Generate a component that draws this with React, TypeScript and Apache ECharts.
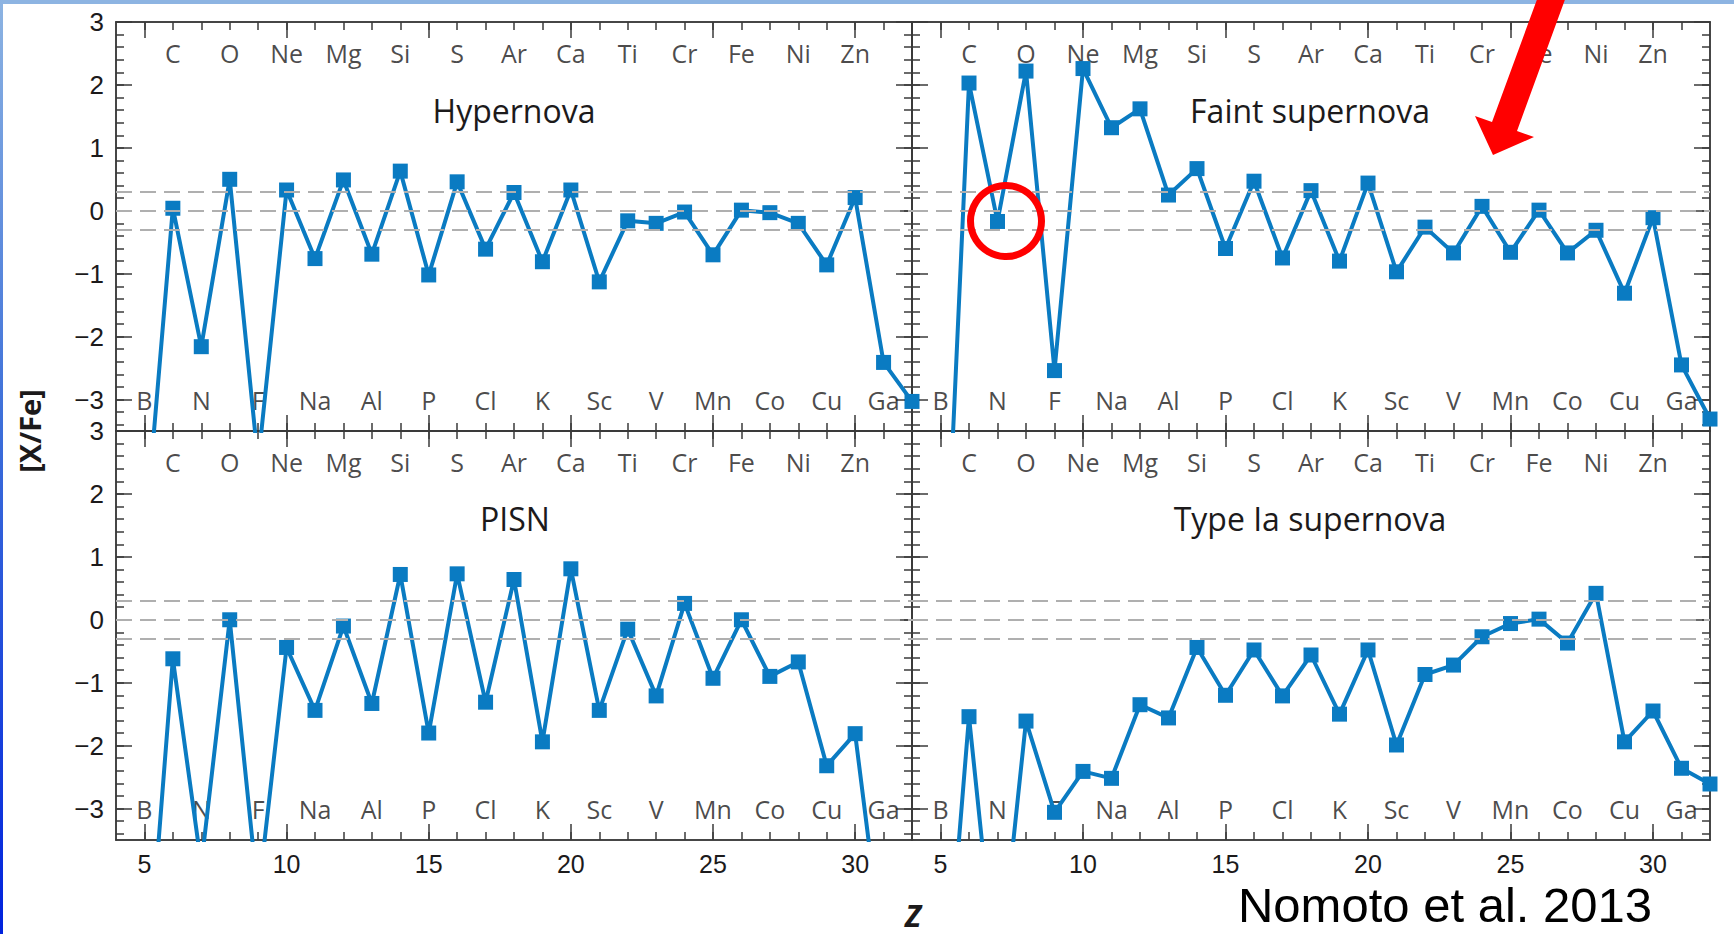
import React, { useEffect, useRef } from "react";
import * as echarts from "echarts";

// ---------- data ----------
const atomicNumbers = [5, 6, 7, 8, 9, 10, 11, 12, 13, 14, 15, 16, 17, 18, 19, 20, 21, 22, 23, 24, 25, 26, 27, 28, 29, 30, 31, 32];
const elementSymbols = ["B", "C", "N", "O", "F", "Ne", "Na", "Mg", "Al", "Si", "P", "S", "Cl", "Ar", "K", "Ca", "Sc", "Ti", "V", "Cr", "Mn", "Fe", "Co", "Ni", "Cu", "Zn", "Ga"];

const hypernova = [-5.3, 0.04, -2.16, 0.5, -4.0, 0.33, -0.76, 0.49, -0.69, 0.63, -1.02, 0.46, -0.61, 0.29, -0.81, 0.33, -1.13, -0.16, -0.2, -0.02, -0.7, 0.01, -0.03, -0.2, -0.86, 0.21, -2.41, -3.03];
const faintSupernova = [-7.9, 2.03, -0.17, 2.22, -2.54, 2.26, 1.32, 1.62, 0.25, 0.67, -0.6, 0.47, -0.75, 0.32, -0.8, 0.44, -0.97, -0.26, -0.67, 0.07, -0.66, 0.01, -0.67, -0.31, -1.31, -0.11, -2.45, -3.31];
const pisn = [-6.4, -0.62, -3.9, 0.0, -4.4, -0.44, -1.44, -0.1, -1.33, 0.72, -1.8, 0.73, -1.31, 0.64, -1.94, 0.81, -1.44, -0.15, -1.21, 0.26, -0.93, 0.0, -0.9, -0.67, -2.32, -1.81, -5.4];
const typeIaSupernova = [-7.1, -1.54, -5.9, -1.61, -3.06, -2.41, -2.52, -1.35, -1.56, -0.44, -1.2, -0.48, -1.21, -0.56, -1.5, -0.48, -1.99, -0.87, -0.72, -0.27, -0.06, 0.01, -0.37, 0.42, -1.94, -1.45, -2.36, -2.61];

const panelTitles = ["Hypernova", "Faint supernova", "PISN", "Type Ia supernova"];
const xMajorTicks = [5, 10, 15, 20, 25, 30];
const xMinorTicks = [5, 6, 7, 8, 9, 10, 11, 12, 13, 14, 15, 16, 17, 18, 19, 20, 21, 22, 23, 24, 25, 26, 27, 28, 29, 30, 31];
const yMajorTicks = [-3, -2, -1, 0, 1, 2, 3];
const yMinorTicks = [-3.4, -3.2, -3, -2.8, -2.6, -2.4, -2.2, -2, -1.8, -1.6, -1.4, -1.2, -1, -0.8, -0.6, -0.4, -0.2, 0, 0.2, 0.4, 0.6, 0.8, 1, 1.2, 1.4, 1.6, 1.8, 2, 2.2, 2.4, 2.6, 2.8];
const referenceLevels = [0.3, 0, -0.3];

// ---------- style / layout ----------
const FONT = "'Open Sans', 'DejaVu Sans', sans-serif";
const NUM_FONT = "'Liberation Sans', 'DejaVu Sans', sans-serif";
const INK = "#1c1a1b";
const AXIS = "#3a3a3a";
const BLUE = "#0A7BC2";
const LABEL_TOP_Y = 2.5;
const LABEL_BOTTOM_Y = -3.0;

const GRIDS = [
  { left: 116, top: 22, width: 796, height: 409 },
  { left: 912, top: 22, width: 798, height: 409 },
  { left: 116, top: 431, width: 796, height: 409 },
  { left: 912, top: 431, width: 798, height: 409 },
];
const PANELS = [
  { values: hypernova, yLabels: true, xLabels: false, tx: 514, ty: 110 },
  { values: faintSupernova, yLabels: false, xLabels: false, tx: 1310, ty: 110 },
  { values: pisn, yLabels: true, xLabels: true, tx: 515, ty: 518 },
  { values: typeIaSupernova, yLabels: false, xLabels: true, tx: 1310, ty: 518 },
];

const minus = (v: number) => (v < 0 ? "\u2212" + Math.abs(v) : String(v));

function xAxis(g: number, position: string, major: boolean, showLabel: boolean) {
  return {
    type: "value",
    gridIndex: g,
    position,
    min: 4,
    max: 32,
    axisLine: { show: true, onZero: false, lineStyle: { color: AXIS, width: 1.5 } },
    axisTick: {
      show: true,
      inside: true,
      length: major ? 16 : 8,
      customValues: major ? xMajorTicks : xMinorTicks,
      lineStyle: { color: AXIS, width: 1.5 },
    },
    axisLabel: {
      show: showLabel,
      customValues: xMajorTicks,
      margin: 11,
      fontSize: 25,
      color: INK,
      fontFamily: NUM_FONT,
    },
    splitLine: { show: false },
  };
}

function yAxis(g: number, position: string, major: boolean, showLabel: boolean) {
  return {
    type: "value",
    gridIndex: g,
    position,
    min: -3.5,
    max: 3,
    axisLine: { show: true, onZero: false, lineStyle: { color: AXIS, width: 1.5 } },
    axisTick: {
      show: true,
      inside: true,
      length: major ? 16 : 8,
      customValues: major ? yMajorTicks : yMinorTicks,
      lineStyle: { color: AXIS, width: 1.5 },
    },
    axisLabel: {
      show: showLabel,
      customValues: yMajorTicks,
      margin: 12,
      fontSize: 26,
      color: INK,
      fontFamily: NUM_FONT,
      formatter: (v: number) => minus(v),
    },
    splitLine: { show: false },
  };
}

function buildOption() {
  const grid = GRIDS.map((g) => ({ ...g, containLabel: false }));
  const xAxes: any[] = [];
  const yAxes: any[] = [];
  const series: any[] = [];

  PANELS.forEach((p, g) => {
    xAxes.push(xAxis(g, "bottom", true, p.xLabels));
    xAxes.push(xAxis(g, "bottom", false, false));
    xAxes.push(xAxis(g, "top", true, false));
    xAxes.push(xAxis(g, "top", false, false));
    yAxes.push(yAxis(g, "left", true, p.yLabels));
    yAxes.push(yAxis(g, "left", false, false));
    yAxes.push(yAxis(g, "right", true, false));
    yAxes.push(yAxis(g, "right", false, false));

    // element symbol labels + dashed reference levels
    series.push({
      type: "scatter",
      xAxisIndex: g * 4,
      yAxisIndex: g * 4,
      silent: true,
      z: 1,
      symbol: "circle",
      symbolSize: 1,
      itemStyle: { color: "rgba(0,0,0,0)" },
      label: {
        show: true,
        position: "inside",
        formatter: (d: any) => d.name,
        fontSize: 25,
        color: INK,
        fontFamily: FONT,
      },
      data: elementSymbols.map((name, i) => ({
        name,
        value: [atomicNumbers[i], atomicNumbers[i] % 2 === 0 ? LABEL_TOP_Y : LABEL_BOTTOM_Y],
      })),
      markLine: {
        silent: true,
        symbol: "none",
        label: { show: false },
        lineStyle: { color: "#AFAFAF", width: 2, type: [16, 8] },
        data: referenceLevels.map((y) => ({ yAxis: y })),
      },
    });

    // abundance pattern
    series.push({
      type: "line",
      xAxisIndex: g * 4,
      yAxisIndex: g * 4,
      silent: true,
      z: 3,
      clip: true,
      symbol: "rect",
      symbolSize: 15,
      lineStyle: { color: BLUE, width: 4 },
      itemStyle: { color: BLUE },
      data: p.values.map((v, i) => [atomicNumbers[i], v]),
    });
  });

  const graphic: any[] = [
    { type: "rect", z: 50, shape: { x: 0, y: 0, width: 1734, height: 4 }, style: { fill: "#8DB4E2" } },
    {
      type: "rect",
      z: 50,
      shape: { x: 0, y: 0, width: 3, height: 934 },
      style: {
        fill: new echarts.graphic.LinearGradient(0, 0, 0, 1, [
          { offset: 0, color: "#8DB4E2" },
          { offset: 0.45, color: "#3D6FD9" },
          { offset: 1, color: "#0022DD" },
        ]),
      },
    },
    ...PANELS.map((p, i) => ({
      type: "text",
      z: 10,
      x: p.tx,
      y: p.ty,
      style: {
        text: panelTitles[i],
        font: `32px ${FONT}`,
        fill: INK,
        textAlign: "center",
        textVerticalAlign: "middle",
      },
    })),
    {
      type: "text",
      z: 10,
      x: 29,
      y: 431,
      rotation: Math.PI / 2,
      style: {
        text: "[X/Fe]",
        font: `bold 29px ${FONT}`,
        fill: INK,
        textAlign: "center",
        textVerticalAlign: "middle",
      },
    },
    {
      type: "text",
      z: 10,
      x: 913,
      y: 915,
      style: {
        text: "Z",
        font: `italic bold 30px ${FONT}`,
        fill: INK,
        textAlign: "center",
        textVerticalAlign: "middle",
      },
    },
    {
      type: "text",
      z: 10,
      x: 1445,
      y: 905,
      style: {
        text: "Nomoto et al. 2013",
        font: `49px 'Liberation Sans', Arial, sans-serif`,
        fill: "#000000",
        textAlign: "center",
        textVerticalAlign: "middle",
      },
    },
    {
      type: "circle",
      z: 60,
      shape: { cx: 1006, cy: 221, r: 35.5 },
      style: { fill: "none", stroke: "#FF0000", lineWidth: 7 },
    },
    {
      type: "polygon",
      z: 60,
      shape: {
        points: [
          [1539, -6],
          [1567, -6],
          [1517, 131],
          [1534, 137],
          [1493, 155],
          [1475, 116],
          [1492, 122],
        ],
      },
      style: { fill: "#FF0000" },
    },
  ];

  return {
    animation: false,
    backgroundColor: "#ffffff",
    textStyle: { fontFamily: FONT },
    grid,
    xAxis: xAxes,
    yAxis: yAxes,
    series,
    graphic,
  };
}

export default function App() {
  const ref = useRef<HTMLDivElement>(null);
  useEffect(() => {
    if (!ref.current) return;
    const chart = echarts.init(ref.current, null, { renderer: "svg" });
    chart.setOption(buildOption() as any);
    return () => chart.dispose();
  }, []);
  return (
    <div
      ref={ref}
      style={{ position: "fixed", left: 0, top: 0, width: 1734, height: 934, background: "#ffffff" }}
    />
  );
}
